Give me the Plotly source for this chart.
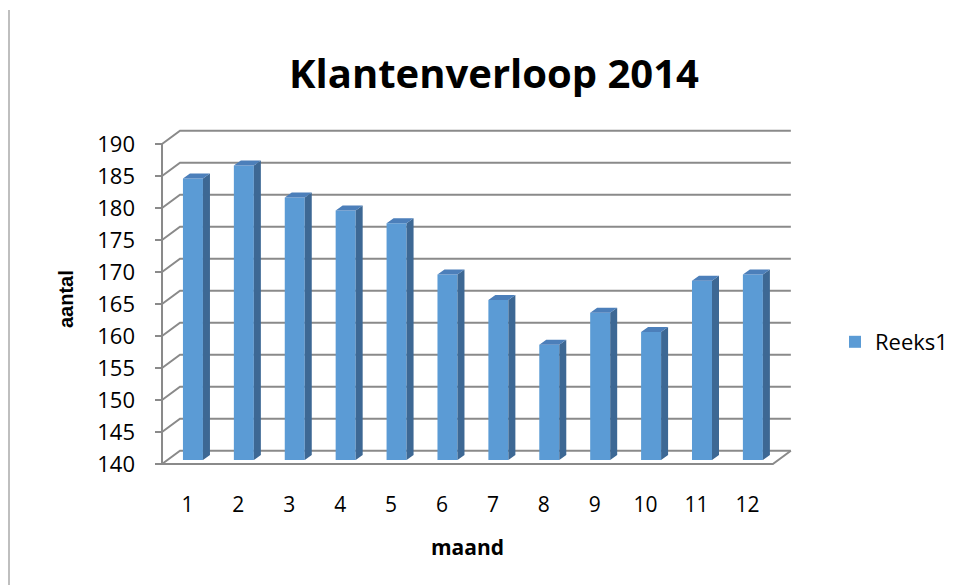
import plotly.graph_objects as go

# ---- data ----
months = [1, 2, 3, 4, 5, 6, 7, 8, 9, 10, 11, 12]
values = [184, 186, 181, 179, 177, 169, 165, 158, 163, 160, 168, 169]
y_ticks = [140, 145, 150, 155, 160, 165, 170, 175, 180, 185, 190]
series_name = "Reeks1"
title_text = "Klantenverloop 2014"
x_title = "maand"
y_title = "aantal"

# ---- style / geometry ----
W, H = 965, 585
OFF = 8  # page body margin in the browser


def px(xs):
    return (xs - OFF) / W


def py(ys):
    return 1 - (ys - OFF) / H


BASE = 140
BAR_W = 0.393          # front face width
DX, DY = 0.1375, 0.78  # bar depth offsets
FX, FY = -0.108, -0.625  # front plane offset from bar plane
BX, BY = 0.2456, 1.45    # back wall offset from bar plane
TICK_L = 0.1375
X_RANGE = [-0.0403, 13.22]
Y_RANGE = [137, 193]
X_DOMAIN = [px(140), px(815)]
Y_DOMAIN = [py(479.2), py(120.8)]

FRONT = "#5B9BD5"
SIDE = "#3D6894"
TOP = "#4C7FBA"
GRID = "#8A8A8A"
FONT = "Open Sans"

fig = go.Figure()

# front faces
fig.add_trace(go.Bar(
    x=months, y=[v - BASE for v in values], base=BASE, width=BAR_W,
    marker=dict(color=FRONT, line=dict(width=0)), name=series_name,
    showlegend=True, hoverinfo="skip"))

# side faces
sx, sy = [], []
for m, v in zip(months, values):
    r = m + BAR_W / 2
    sx += [r, r + DX, r + DX, r, r, None]
    sy += [BASE, BASE + DY, v + DY, v, BASE, None]
fig.add_trace(go.Scatter(x=sx, y=sy, fill="toself", fillcolor=SIDE, mode="lines",
                         line=dict(width=0, color=SIDE), showlegend=False, hoverinfo="skip"))
# top faces
tx, ty = [], []
for m, v in zip(months, values):
    l, r = m - BAR_W / 2, m + BAR_W / 2
    tx += [l, r, r + DX, l + DX, l, None]
    ty += [v, v, v + DY, v + DY, v, None]
fig.add_trace(go.Scatter(x=tx, y=ty, fill="toself", fillcolor=TOP, mode="lines",
                         line=dict(width=0, color=TOP), showlegend=False, hoverinfo="skip"))

shapes = []
x_left = months[0] - 0.5
x_right = months[-1] + 0.5
for v in y_ticks:
    # side wall diagonal + back wall gridline
    shapes.append(dict(type="path", xref="x", yref="y", layer="below",
                       path=f"M{x_left+FX},{v+FY} L{x_left+BX},{v+BY} L{x_right+BX},{v+BY}",
                       line=dict(color=GRID, width=2)))
    # tick marks on front axis
    shapes.append(dict(type="line", xref="x", yref="y", layer="below",
                       x0=x_left + FX - TICK_L, x1=x_left + FX, y0=v + FY, y1=v + FY,
                       line=dict(color=GRID, width=2)))
# front vertical axis
shapes.append(dict(type="line", xref="x", yref="y", layer="below",
                   x0=x_left + FX, x1=x_left + FX, y0=y_ticks[0] + FY, y1=y_ticks[-1] + FY,
                   line=dict(color=GRID, width=2)))
# floor front edge + right diagonal
shapes.append(dict(type="path", xref="x", yref="y", layer="below",
                   path=f"M{x_left+FX},{BASE+FY} L{x_right+FX},{BASE+FY} L{x_right+BX},{BASE+BY}",
                   line=dict(color=GRID, width=2)))
# outer left border of chart area
shapes.append(dict(type="line", xref="paper", yref="paper", x0=px(9), x1=px(9),
                   y0=0, y1=py(10), line=dict(color="#BFBFBF", width=2)))

fig.update_layout(
    width=W, height=H, autosize=False,
    margin=dict(l=0, r=0, t=0, b=0),
    paper_bgcolor="white", plot_bgcolor="rgba(0,0,0,0)",
    font=dict(family=FONT, size=21, color="black"),
    title=dict(text=f"<b>{title_text}</b>", x=px(494), xanchor="center",
               y=py(74), yanchor="middle", yref="container",
               font=dict(family=FONT, size=40, color="black")),
    shapes=shapes,
    showlegend=True,
    legend=dict(x=px(835), y=py(342), xanchor="left", yanchor="middle",
                font=dict(family=FONT, size=22), bgcolor="rgba(0,0,0,0)"),
    xaxis=dict(range=X_RANGE, domain=X_DOMAIN, showgrid=False, zeroline=False,
               showline=False, tickmode="array", tickvals=[m + FX for m in months],
               ticktext=[str(m) for m in months], ticks="", ticklabelstandoff=11,
               fixedrange=True),
    yaxis=dict(range=Y_RANGE, domain=Y_DOMAIN, showgrid=False, zeroline=False,
               showline=False, tickmode="array", tickvals=[v + FY for v in y_ticks],
               ticktext=[str(v) for v in y_ticks], ticks="", ticklabelstandoff=4,
               tickfont=dict(size=22), fixedrange=True),
    annotations=[
        dict(text=f"<b>{x_title}</b>", x=px(467), y=py(547), xref="paper", yref="paper",
             showarrow=False, xanchor="center", yanchor="middle",
             font=dict(family=FONT, size=21)),
        dict(text=f"<b>{y_title}</b>", x=px(66), y=py(299), xref="paper", yref="paper",
             showarrow=False, xanchor="center", yanchor="middle", textangle=-90,
             font=dict(family="Liberation Sans", size=20)),
    ],
)

fig.write_html("out.html")
